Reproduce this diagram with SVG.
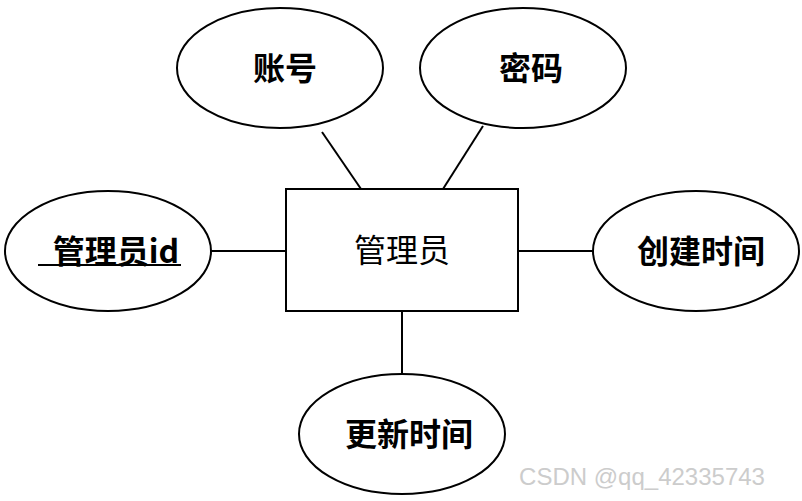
<svg xmlns="http://www.w3.org/2000/svg" width="802" height="501" viewBox="0 0 802 501">
<style>
.e{fill:#fff;stroke:#000;stroke-width:2}
.t{font-family:"Noto Sans CJK SC","Liberation Sans",sans-serif;font-size:32px;font-weight:bold;text-anchor:middle;fill:#000}
</style>
<rect width="802" height="501" fill="#fff"/>
<g id="connectors" stroke="#000" stroke-width="2">
<line x1="322" y1="132" x2="361" y2="189"/>
<line x1="483" y1="126" x2="443" y2="189"/>
<line x1="211" y1="251" x2="286" y2="251"/>
<line x1="518" y1="251" x2="593" y2="251"/>
<line x1="402" y1="311" x2="402" y2="374"/>
</g>
<g id="admin"><rect x="286" y="189" width="232" height="122" class="e"/><text x="402" y="262" class="t" style="font-weight:normal">管理员</text></g>
<g id="account"><ellipse cx="280" cy="68" rx="103" ry="60" class="e"/><text x="285" y="80" class="t">账号</text></g>
<g id="password"><ellipse cx="523" cy="68" rx="103" ry="60" class="e"/><text x="531" y="80" class="t">密码</text></g>
<g id="adminid"><ellipse cx="108" cy="251" rx="103" ry="60" class="e"/><text x="116" y="263" class="t">管理员id</text><line x1="38" y1="265" x2="181" y2="265" stroke="#000" stroke-width="2"/></g>
<g id="created"><ellipse cx="696" cy="251" rx="103" ry="60" class="e"/><text x="701" y="263" class="t">创建时间</text></g>
<g id="updated"><ellipse cx="402" cy="434" rx="103" ry="60" class="e"/><text x="409" y="446" class="t">更新时间</text></g>
<text x="642" y="485" font-family="Liberation Sans,sans-serif" font-size="24" fill="#ccc" text-anchor="middle">CSDN @qq_42335743</text>
</svg>
